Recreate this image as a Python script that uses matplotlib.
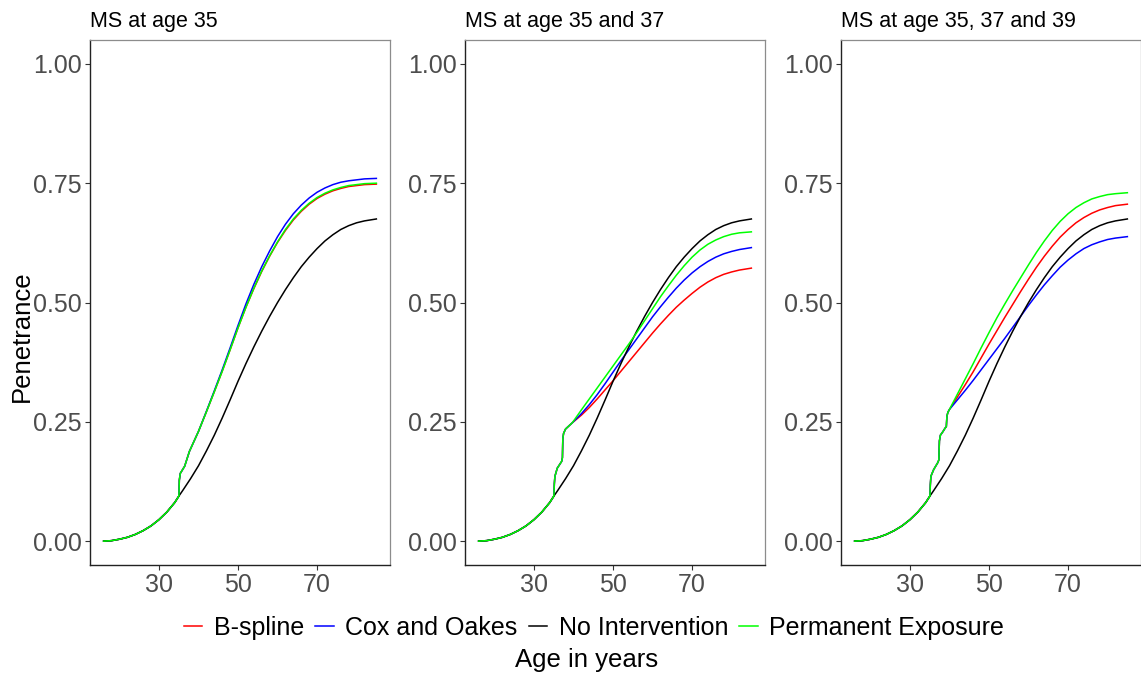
import matplotlib
matplotlib.use("Agg")
import matplotlib.pyplot as plt

plt.rcParams['font.family'] = ['Liberation Sans', 'DejaVu Sans']

# ---------------- data ----------------
titles = ["MS at age 35", "MS at age 35 and 37", "MS at age 35, 37 and 39"]
series_names = ["B-spline", "Cox and Oakes", "No Intervention", "Permanent Exposure"]
series_colors = ["#FF0000", "#0000FF", "#000000", "#00FF00"]

# shared part before first MS episode
pre_ages = [16, 18, 20, 22, 24, 26, 28, 30, 32, 34, 35]
pre_pen = [0.000, 0.001, 0.004, 0.008, 0.014, 0.022, 0.032, 0.045, 0.061, 0.081, 0.094]

# No intervention (same in all panels), after age 35
black_ages = [36, 38, 40, 42, 44, 46, 48, 50, 52, 54, 56, 58, 60, 62, 64, 66, 68,
              70, 72, 74, 76, 78, 80, 82, 85]
black_pen = [0.106, 0.131, 0.158, 0.189, 0.222, 0.258, 0.296, 0.335, 0.372, 0.407,
             0.440, 0.471, 0.500, 0.527, 0.552, 0.575, 0.595, 0.613, 0.629, 0.642,
             0.653, 0.661, 0.667, 0.671, 0.675]

# step part (shared by the three intervention curves) per panel
step1_ages = [35.05, 35.15, 35.4, 36.5, 37.7, 40]
step1_pen = [0.094, 0.128, 0.142, 0.157, 0.188, 0.230]
step2_ages = [35.05, 35.15, 35.3, 35.9, 37.0, 37.2, 37.3, 37.5, 38.0, 39.7]
step2_pen = [0.094, 0.120, 0.136, 0.153, 0.167, 0.175, 0.215, 0.226, 0.235, 0.248]
step3_ages = [35.05, 35.15, 35.3, 36.0, 37.0, 37.3, 37.45, 37.7, 38.3, 38.9, 39.2,
              39.35, 39.6, 40.0]
step3_pen = [0.094, 0.118, 0.136, 0.150, 0.164, 0.170, 0.210, 0.222, 0.229, 0.237,
             0.240, 0.262, 0.270, 0.276]

post_ages = [42, 44, 46, 48, 50, 52, 54, 56, 58, 60, 62, 64, 66, 68, 70, 72, 74, 76,
             78, 80, 82, 85]

# panel 1
p1_bspline = [0.271, 0.313, 0.356, 0.401, 0.447, 0.490, 0.529, 0.565, 0.597, 0.626,
              0.651, 0.673, 0.691, 0.706, 0.718, 0.727, 0.734, 0.739, 0.743, 0.745,
              0.747, 0.748]
p1_cox = [0.272, 0.315, 0.359, 0.405, 0.452, 0.497, 0.538, 0.575, 0.608, 0.638,
          0.664, 0.686, 0.704, 0.719, 0.731, 0.740, 0.747, 0.752, 0.755, 0.757,
          0.759, 0.760]
p1_perm = [0.271, 0.313, 0.356, 0.401, 0.447, 0.490, 0.530, 0.566, 0.598, 0.627,
           0.653, 0.675, 0.693, 0.708, 0.720, 0.729, 0.736, 0.741, 0.745, 0.747,
           0.749, 0.750]

# panel 2
p2_bspline = [0.264, 0.280, 0.298, 0.317, 0.336, 0.356, 0.376, 0.396, 0.416, 0.436,
              0.455, 0.473, 0.490, 0.505, 0.519, 0.532, 0.543, 0.552, 0.559, 0.564,
              0.568, 0.572]
p2_cox = [0.267, 0.286, 0.307, 0.330, 0.354, 0.378, 0.401, 0.424, 0.447, 0.470,
          0.491, 0.511, 0.530, 0.547, 0.562, 0.575, 0.586, 0.595, 0.602, 0.607,
          0.611, 0.615]
p2_perm = [0.275, 0.298, 0.321, 0.344, 0.367, 0.390, 0.413, 0.437, 0.462, 0.487,
           0.512, 0.535, 0.557, 0.577, 0.595, 0.610, 0.622, 0.631, 0.638, 0.643,
           0.646, 0.648]

# panel 3
p3_bspline = [0.302, 0.328, 0.355, 0.384, 0.413, 0.441, 0.469, 0.496, 0.523, 0.549,
              0.574, 0.597, 0.618, 0.637, 0.653, 0.667, 0.678, 0.687, 0.694, 0.699,
              0.703, 0.706]
p3_cox = [0.296, 0.316, 0.337, 0.359, 0.381, 0.403, 0.425, 0.448, 0.471, 0.494,
          0.516, 0.537, 0.556, 0.574, 0.589, 0.602, 0.613, 0.621, 0.627, 0.632,
          0.635, 0.638]
p3_perm = [0.308, 0.340, 0.372, 0.405, 0.437, 0.468, 0.497, 0.525, 0.552, 0.579,
           0.605, 0.629, 0.651, 0.670, 0.686, 0.699, 0.709, 0.717, 0.722, 0.726,
           0.728, 0.730]

x_ticks = [30, 50, 70]
y_ticks = [0.00, 0.25, 0.50, 0.75, 1.00]

panels = [
    (step1_ages, step1_pen, p1_bspline, p1_cox, p1_perm),
    (step2_ages, step2_pen, p2_bspline, p2_cox, p2_perm),
    (step3_ages, step3_pen, p3_bspline, p3_cox, p3_perm),
]

# ---------------- figure ----------------
W, H = 1141, 675
fig = plt.figure(figsize=(W / 100, H / 100), dpi=100)

lefts = [90, 465, 841]
pw = 300
top_px, bot_px = 40, 565

tick_col = "#4D4D4D"
handles = None
for i, (sa, sp, bsp, cox, perm) in enumerate(panels):
    ax = fig.add_axes([lefts[i] / W, 1 - bot_px / H, pw / W, (bot_px - top_px) / H])
    inter_ages = pre_ages + sa + post_ages
    ys = {
        "B-spline": pre_pen + sp + bsp,
        "Cox and Oakes": pre_pen + sp + cox,
        "No Intervention": pre_pen + black_pen,
        "Permanent Exposure": pre_pen + sp + perm,
    }
    hs = []
    for name, col in zip(series_names, series_colors):
        xa = pre_ages + black_ages if name == "No Intervention" else inter_ages
        h, = ax.plot(xa, ys[name], color=col, lw=1.1, label=name,
                     solid_joinstyle='round')
        hs.append(h)
    handles = hs
    ax.set_xlim(12.55, 88.45)
    ax.set_ylim(-0.05, 1.05)
    ax.set_xticks(x_ticks)
    ax.set_xticklabels([str(t) for t in x_ticks])
    ax.set_yticks(y_ticks)
    ax.set_yticklabels([f"{t:.2f}" for t in y_ticks])
    ax.tick_params(axis='both', labelsize=18, colors="#333333", labelcolor=tick_col,
                   length=3.5, width=0.8, pad=2.5)
    for s in ["top", "right"]:
        ax.spines[s].set_color("#8C8C8C")
        ax.spines[s].set_linewidth(0.9)
    for s in ["left", "bottom"]:
        ax.spines[s].set_color("#222222")
        ax.spines[s].set_linewidth(1.0)
    ax.set_title(titles[i], loc='left', fontsize=15.5, color="black", pad=9)

fig.text(22 / W, 1 - 336 / H, "Penetrance", rotation=90, ha='center', va='center',
         fontsize=18.5, color='black')
fig.text(587 / W, 1 - 660 / H, "Age in years", ha='center', va='center',
         fontsize=18.5, color='black')

fig.legend(handles, series_names, loc='center', bbox_to_anchor=(594 / W, 1 - 628 / H),
           ncol=4, frameon=False, fontsize=18, handlelength=0.75,
           handletextpad=0.45, columnspacing=0.45, borderpad=0.1)

fig.savefig("out.png", dpi=100)
